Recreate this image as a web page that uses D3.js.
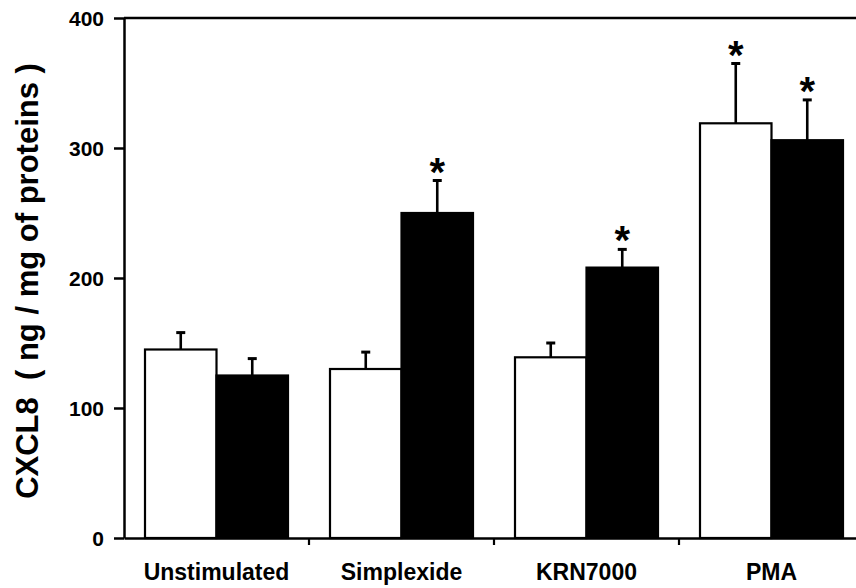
<!DOCTYPE html>
<html>
<head>
<meta charset="utf-8">
<script src="https://cdn.jsdelivr.net/npm/d3@7"></script>
<style>
  html, body { margin: 0; padding: 0; background: #fff; }
  svg { display: block; }
  text { font-family: "Liberation Sans", Arial, Helvetica, sans-serif; font-weight: bold; fill: #000; }
</style>
</head>
<body>
<svg id="chart" width="856" height="588"></svg>
<script>
// ---- data ----
const categories = ["Unstimulated", "Simplexide", "KRN7000", "PMA"];
const seriesNames = ["white", "black"];
const whiteValues = [145, 130, 139, 319];
const whiteErrors = [13, 13, 11, 46];
const blackValues = [125, 250, 208, 306];
const blackErrors = [13, 25, 14, 31];
const whiteSignificant = [false, false, false, true];
const blackSignificant = [false, true, true, true];
const yTicks = [0, 100, 200, 300, 400];
const yLabel = "CXCL8  ( ng / mg of proteins )";

const rows = [];
categories.forEach((c, i) => {
  rows.push({cat: c, s: "white", v: whiteValues[i], e: whiteErrors[i], sig: whiteSignificant[i]});
  rows.push({cat: c, s: "black", v: blackValues[i], e: blackErrors[i], sig: blackSignificant[i]});
});

const svg = d3.select("#chart");
const mLeft = 124, mRight = 864, mTop = 18, mBottom = 538;

const x0 = d3.scaleBand().domain(categories).range([mLeft, mRight]).padding(0);
const x1 = d3.scaleBand().domain(seriesNames).range([21, x0.bandwidth() - 21]).padding(0);
const y = d3.scaleLinear().domain([0, 400]).range([mBottom, mTop]);

// bars
svg.append("g").selectAll("rect").data(rows).join("rect")
  .attr("x", d => x0(d.cat) + x1(d.s))
  .attr("y", d => y(d.v))
  .attr("width", x1.bandwidth())
  .attr("height", d => y(0) - y(d.v))
  .attr("fill", d => d.s === "white" ? "#fff" : "#000")
  .attr("stroke", "#000")
  .attr("stroke-width", 2.2);

// error bars
const eg = svg.append("g");
rows.forEach(d => {
  const cx = x0(d.cat) + x1(d.s) + x1.bandwidth() / 2;
  eg.append("line").attr("x1", cx).attr("x2", cx)
    .attr("y1", y(d.v)).attr("y2", y(d.v + d.e))
    .attr("stroke", "#000").attr("stroke-width", 2.6);
  eg.append("line").attr("x1", cx - 4.5).attr("x2", cx + 4.5)
    .attr("y1", y(d.v + d.e)).attr("y2", y(d.v + d.e))
    .attr("stroke", "#000").attr("stroke-width", 3);
  if (d.sig) {
    eg.append("text").attr("x", cx).attr("y", y(d.v + d.e) + 5)
      .attr("text-anchor", "middle").style("font-size", "40px").text("*");
  }
});

// y axis
const yAxis = svg.append("g").attr("transform", `translate(${mLeft},0)`)
  .call(d3.axisLeft(y).tickValues(yTicks).tickSize(10).tickPadding(10).tickSizeOuter(0));
yAxis.attr("font-size", null).attr("font-family", null);
yAxis.select(".domain").attr("stroke-width", 2.5);
yAxis.selectAll(".tick line").attr("stroke-width", 2.5);
yAxis.selectAll(".tick text").style("font-size", "21px").attr("dy", "0.36em");

// x axis
const xAxis = svg.append("g").attr("transform", `translate(0,${mBottom})`)
  .call(d3.axisBottom(x0).tickSize(0).tickPadding(26).tickSizeOuter(0));
xAxis.attr("font-size", null).attr("font-family", null);
xAxis.select(".domain").attr("stroke-width", 2.5);
xAxis.selectAll(".tick text").style("font-size", "23px");
// boundary ticks between categories
svg.append("g").selectAll("line").data(categories.slice(1)).join("line")
  .attr("x1", d => x0(d)).attr("x2", d => x0(d))
  .attr("y1", mBottom).attr("y2", mBottom + 7)
  .attr("stroke", "#000").attr("stroke-width", 2.2);

// top frame
svg.append("line").attr("x1", mLeft).attr("x2", mRight)
  .attr("y1", y(400)).attr("y2", y(400))
  .attr("stroke", "#000").attr("stroke-width", 2.5);

// y label
svg.append("text")
  .attr("transform", `translate(38,${(mTop + mBottom) / 2 + 3}) rotate(-90)`)
  .attr("text-anchor", "middle")
  .style("font-size", "31px")
  .style("white-space", "pre")
  .text(yLabel);
</script>
</body>
</html>
